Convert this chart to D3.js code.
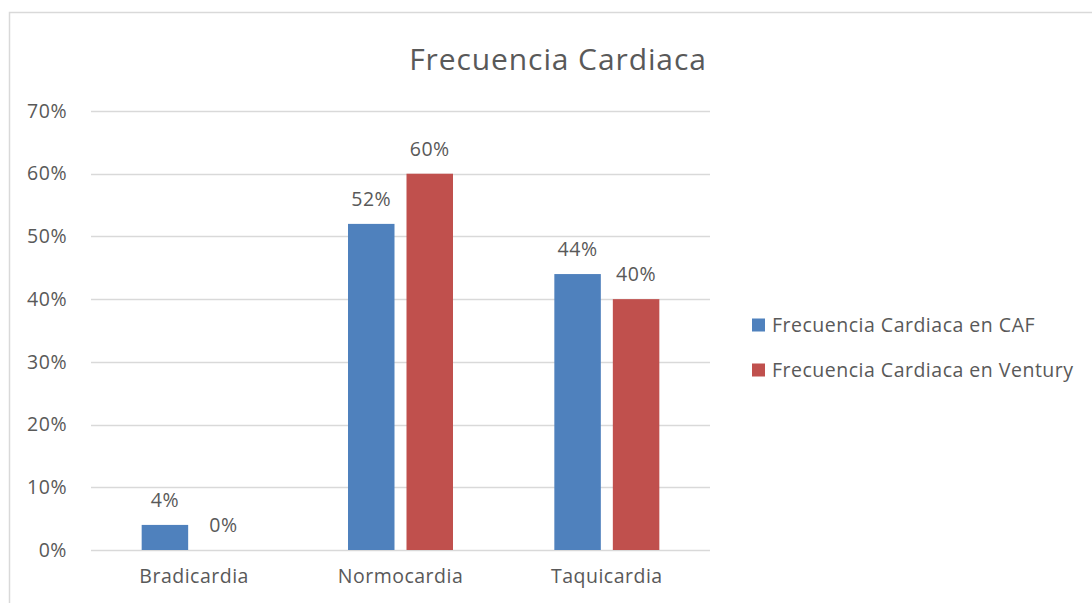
<!DOCTYPE html>
<html><head><meta charset="utf-8">
<script src="https://cdn.jsdelivr.net/npm/d3@7"></script>
<style>html,body{margin:0;padding:0;background:#fff;}svg{display:block;font-family:"Open Sans",sans-serif;}</style>
</head><body><svg id="c" width="1092" height="603"></svg>
<script>
const categories = ["Bradicardia", "Normocardia", "Taquicardia"];
const seriesNames = ["Frecuencia Cardiaca en CAF", "Frecuencia Cardiaca en Ventury"];
const cafValues = [0.04, 0.52, 0.44];
const venturyValues = [0.00, 0.60, 0.40];
const yTicks = [0, 0.1, 0.2, 0.3, 0.4, 0.5, 0.6, 0.7];
const colors = ["#4F81BD", "#C0504D"];
const title = "Frecuencia Cardiaca";

(function () {
const svg = d3.select("#c");
const txt = "#595959";
const fs = "19.5px", ls = "0.5px";
svg.append("rect").attr("x", 9.5).attr("y", 12.5).attr("width", 1100).attr("height", 700)
  .attr("fill", "none").attr("stroke", "#D9D9D9").attr("stroke-width", 1.5);

const pLeft = 91, pRight = 710, pTop = 111, pBottom = 550;
const x = d3.scaleBand().domain(categories).range([pLeft, pRight]).paddingInner(0).paddingOuter(0);
const y = d3.scaleLinear().domain([0, 0.7]).range([pBottom, pTop]);
const barW = 46.5, gap = 12;
const x1 = d3.scaleOrdinal().domain([0, 1]).range([-(gap / 2 + barW), gap / 2]);

svg.append("g").selectAll("line").data(yTicks).join("line")
  .attr("x1", pLeft).attr("x2", pRight)
  .attr("y1", d => Math.round(y(d)) + 0.5).attr("y2", d => Math.round(y(d)) + 0.5)
  .attr("stroke", "#D9D9D9").attr("stroke-width", 1.3);

const yAxis = d3.axisLeft(y).tickValues(yTicks).tickFormat(d3.format(".0%")).tickSize(0).tickPadding(0);
const ga = svg.append("g").attr("transform", `translate(67,0)`).call(yAxis);
ga.select(".domain").remove();
ga.selectAll("text").attr("fill", txt).style("font-size", fs).style("letter-spacing", ls).style("font-family", "'Open Sans',sans-serif");

const xAxis = d3.axisBottom(x).tickSize(0).tickPadding(0);
const gx = svg.append("g").attr("transform", `translate(0,${pBottom + 19})`).call(xAxis);
gx.select(".domain").remove();
gx.selectAll("text").attr("fill", txt).style("font-size", fs).style("letter-spacing", ls).style("font-family", "'Open Sans',sans-serif");

const series = [cafValues, venturyValues];
series.forEach((vals, si) => {
  const g = svg.append("g");
  g.selectAll("rect").data(vals).join("rect")
    .attr("x", (d, i) => x(categories[i]) + x.bandwidth() / 2 + x1(si))
    .attr("y", d => y(d))
    .attr("width", barW)
    .attr("height", d => y(0) - y(d))
    .attr("fill", colors[si]);
  g.selectAll("text").data(vals).join("text")
    .attr("x", (d, i) => x(categories[i]) + x.bandwidth() / 2 + x1(si) + barW / 2)
    .attr("y", d => y(d) - 18)
    .attr("text-anchor", "middle")
    .attr("fill", txt).style("font-size", fs).style("letter-spacing", ls)
    .text(d => d3.format(".0%")(d));
});

svg.append("text").attr("x", 558).attr("y", 70).attr("text-anchor", "middle")
  .attr("fill", txt).style("font-size", "30px").style("letter-spacing", "0.9px").text(title);

const lg = svg.append("g");
seriesNames.forEach((n, i) => {
  const cy = 325 + i * 45;
  lg.append("rect").attr("x", 752).attr("y", cy - 6.5).attr("width", 13).attr("height", 13).attr("fill", colors[i]);
  lg.append("text").attr("x", 772).attr("y", cy).attr("dy", "0.35em").attr("fill", txt)
    .style("font-size", fs).style("letter-spacing", ls).text(n);
});
})();
</script></body></html>
